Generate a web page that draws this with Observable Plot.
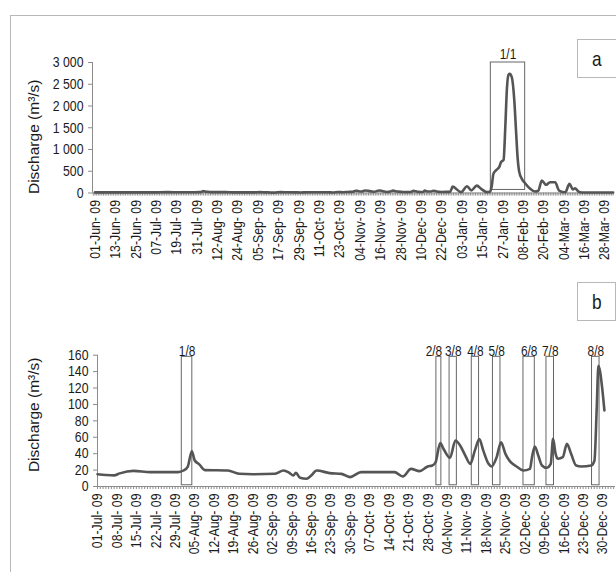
<!DOCTYPE html>
<html>
<head>
<meta charset="utf-8">
<script src="https://cdn.jsdelivr.net/npm/d3@7"></script>
<script src="https://cdn.jsdelivr.net/npm/@observablehq/plot@0.6"></script>
<style>
  html, body { margin: 0; padding: 0; background: #fff; }
  body { width: 616px; height: 572px; overflow: hidden; }
  #wrap { position: relative; width: 616px; height: 572px; overflow: hidden; }
  #frame { position: absolute; left: 10px; top: 15px; width: 640px; height: 600px; border: 1px solid #b8b8b8; box-sizing: border-box; }
  .panel { position: absolute; left: 0; }
  .tag { position: absolute; border: 1px solid #b8b8b8; box-sizing: border-box; background: #fff;
         font-family: "Liberation Sans", Arial, sans-serif;
         font-size: 21px; color: #1a1a1a; display: flex; align-items: center; justify-content: center; }
  .tag span { display: inline-block; transform: scaleX(0.82); }
</style>
</head>
<body>
<div id="wrap">
  <div id="frame"></div>
  <div id="top" class="panel" style="top:0px"></div>
  <div id="bottom" class="panel" style="top:290px"></div>
  <div class="tag" style="left:577px; top:39px; width:40px; height:39px;"><span>a</span></div>
  <div class="tag" style="left:577px; top:282px; width:39px; height:39px;"><span>b</span></div>
</div>
<script>
// ---------- data ----------
const datesJun  = ["2009-06-01", "2009-06-10", "2009-06-20", "2009-06-30"];
const valuesJun = [15, 14, 15, 15];

const datesJulDec = [
  "2009-07-01", "2009-07-04", "2009-07-07", "2009-07-09", "2009-07-14", "2009-07-20", "2009-07-30",
  "2009-08-01", "2009-08-02T12:00Z", "2009-08-04", "2009-08-05", "2009-08-06T16:00Z", "2009-08-08T16:00Z",
  "2009-08-17", "2009-08-21", "2009-08-26", "2009-09-03", "2009-09-06", "2009-09-08",
  "2009-09-09T14:00Z", "2009-09-10T12:00Z", "2009-09-12", "2009-09-14T08:00Z", "2009-09-16", "2009-09-18",
  "2009-09-22T16:00Z", "2009-09-26T22:00Z", "2009-09-29T22:00Z", "2009-10-04", "2009-10-16", "2009-10-19",
  "2009-10-22", "2009-10-25", "2009-10-28", "2009-10-29T16:00Z", "2009-10-30T20:00Z",
  "2009-11-01T12:00Z", "2009-11-02T16:00Z", "2009-11-05", "2009-11-07", "2009-11-08T16:00Z",
  "2009-11-10T12:00Z", "2009-11-12T08:00Z", "2009-11-14", "2009-11-15T14:00Z", "2009-11-17",
  "2009-11-18T22:00Z", "2009-11-20", "2009-11-21T20:00Z", "2009-11-23T10:00Z", "2009-11-25",
  "2009-11-26T14:00Z", "2009-11-29", "2009-12-01T10:00Z", "2009-12-03T20:00Z", "2009-12-04T14:00Z",
  "2009-12-05T14:00Z", "2009-12-06T20:00Z", "2009-12-08T04:00Z", "2009-12-09T20:00Z", "2009-12-11T08:00Z",
  "2009-12-12T04:00Z", "2009-12-13T02:00Z", "2009-12-13T22:00Z", "2009-12-15T16:00Z", "2009-12-17T04:00Z",
  "2009-12-18T16:00Z", "2009-12-20T12:00Z", "2009-12-22T08:00Z", "2009-12-25T22:00Z", "2009-12-27T02:00Z",
  "2009-12-27T22:00Z", "2009-12-28T12:00Z", "2009-12-29T04:00Z", "2009-12-29T20:00Z", "2009-12-30T16:00Z"
];
const valuesJulDec = [
  15, 14, 13.5, 16, 19, 17.5, 17.5,
  19.5, 24, 43, 32, 27, 20,
  19.5, 15.5, 15, 15.5, 19.5, 17,
  13.4, 16.7, 10.6, 9.4, 13.4, 19.5,
  16.3, 15.4, 11.4, 17.5, 17.5, 12.2,
  21.5, 18.7, 24.4, 25.6, 29.6,
  52.8, 46, 35, 56, 50,
  38, 27.6, 44, 57.7, 44,
  27.6, 24.4, 35.7, 54, 39.8,
  30.9, 24.4, 19.5, 21.5, 35.7,
  48.8, 37.8, 25.6, 22.8, 27.6,
  58, 39.8, 33.8, 35.7, 52,
  39.8, 25.6, 24.4, 25.6, 31.7,
  96.7, 147, 139, 121, 92.7
];

const datesJanApr = [
  "2010-01-02T12:00Z", "2010-01-06", "2010-01-08T12:00Z", "2010-01-11T18:00Z", "2010-01-14T12:00Z",
  "2010-01-17T16:00Z", "2010-01-19T12:00Z", "2010-01-20T12:00Z", "2010-01-21T12:00Z", "2010-01-23",
  "2010-01-25", "2010-01-26", "2010-01-27T12:00Z", "2010-01-28T12:00Z", "2010-01-29T12:00Z",
  "2010-01-30T10:00Z", "2010-01-31T04:00Z", "2010-02-01T10:00Z", "2010-02-02T20:00Z", "2010-02-03T22:00Z",
  "2010-02-04T18:00Z", "2010-02-05T18:00Z", "2010-02-07T06:00Z", "2010-02-09T04:00Z", "2010-02-12T04:00Z",
  "2010-02-15", "2010-02-17", "2010-02-19", "2010-02-21T14:00Z", "2010-02-23T20:00Z",
  "2010-02-26T20:00Z", "2010-03-01T04:00Z", "2010-03-04T20:00Z", "2010-03-07T08:00Z", "2010-03-09T08:00Z",
  "2010-03-10T14:00Z", "2010-03-12T14:00Z", "2010-03-14T14:00Z", "2010-03-25", "2010-04-02"
];
const valuesJanApr = [
  20, 155, 60, 170, 90,
  20, 30, 150, 440, 520,
  600, 710, 760, 1500, 2420,
  2720, 2740, 2650, 2120, 1370,
  820, 480, 326, 225, 97,
  34, 57, 287, 188, 248,
  248, 57, 18, 211, 80,
  110, 34, 12, 12, 12
];

// highlighted events
const eventTopLabels = ["1/1"];
const eventTopStart  = ["2010-01-20"];
const eventTopEnd    = ["2010-02-09T05:00Z"];
const eventTopLow = 70, eventTopHigh = 3000;

const eventBotLabels = ["1/8", "2/8", "3/8", "4/8", "5/8", "6/8", "7/8", "8/8"];
const eventBotStart  = ["2009-07-31T09:00Z", "2009-10-31T03:00Z", "2009-11-04T21:00Z", "2009-11-12T21:00Z",
                        "2009-11-20T12:00Z", "2009-12-01T12:00Z", "2009-12-09T19:00Z", "2009-12-26T05:00Z"];
const eventBotEnd    = ["2009-08-04T04:00Z", "2009-11-01T22:00Z", "2009-11-07T12:00Z", "2009-11-15T12:00Z",
                        "2009-11-23T05:00Z", "2009-12-05T14:00Z", "2009-12-12T12:00Z", "2009-12-28T22:00Z"];
const eventBotLow = 1.5, eventBotHigh = 158;

// ticks
const xTickDatesTop = ["2009-06-01","2009-06-13","2009-06-25","2009-07-07","2009-07-19","2009-07-31",
  "2009-08-12","2009-08-24","2009-09-05","2009-09-17","2009-09-29","2009-10-11","2009-10-23","2009-11-04",
  "2009-11-16","2009-11-28","2009-12-10","2009-12-22","2010-01-03","2010-01-15","2010-01-27","2010-02-08",
  "2010-02-20","2010-03-04","2010-03-16","2010-03-28"];
const xTickLabelsTop = ["01-Jun- 09","13-Jun- 09","25-Jun- 09","07-Jul- 09","19-Jul- 09","31-Jul- 09",
  "12-Aug- 09","24-Aug- 09","05-Sep- 09","17-Sep- 09","29-Sep- 09","11-Oct- 09","23-Oct- 09","04-Nov- 09",
  "16-Nov- 09","28-Nov- 09","10-Dec- 09","22-Dec- 09","03-Jan- 09","15-Jan- 09","27-Jan- 09","08-Feb- 09",
  "20-Feb- 09","04-Mar- 09","16-Mar- 09","28-Mar- 09"];
const xTickDatesBot = ["2009-07-01","2009-07-08","2009-07-15","2009-07-22","2009-07-29","2009-08-05",
  "2009-08-12","2009-08-19","2009-08-26","2009-09-02","2009-09-09","2009-09-16","2009-09-23","2009-09-30",
  "2009-10-07","2009-10-14","2009-10-21","2009-10-28","2009-11-04","2009-11-11","2009-11-18","2009-11-25",
  "2009-12-02","2009-12-09","2009-12-16","2009-12-23","2009-12-30"];
const xTickLabelsBot = ["01-Jul- 09","08-Jul- 09","15-Jul- 09","22-Jul- 09","29-Jul- 09","05-Aug- 09",
  "12-Aug- 09","19-Aug- 09","26-Aug- 09","02-Sep- 09","09-Sep- 09","16-Sep- 09","23-Sep- 09","30-Sep- 09",
  "07-Oct- 09","14-Oct- 09","21-Oct- 09","28-Oct- 09","04-Nov- 09","11-Nov- 09","18-Nov- 09","25-Nov- 09",
  "02-Dec- 09","09-Dec- 09","16-Dec- 09","23-Dec- 09","30-Dec- 09"];
const yTicksTop = [0, 500, 1000, 1500, 2000, 2500, 3000];
const yTickLabelsTop = ["0", "500", "1 000", "1 500", "2 000", "2 500", "3 000"];
const yTicksBot = [0, 20, 40, 60, 80, 100, 120, 140, 160];
const yTickLabelsBot = ["0", "20", "40", "60", "80", "100", "120", "140", "160"];
const yTitle = "Discharge (m³/s)";

// ---------- build ----------
const P = s => new Date(s);
const series = (ds, vs) => ds.map((d, i) => ({date: P(d), value: vs[i]}));
const bottomData = series(datesJulDec, valuesJulDec);
const topData = [...series(datesJun, valuesJun), ...bottomData, ...series(datesJanApr, valuesJanApr)];
const events = (labels, s, e, lo, hi) => labels.map((l, i) => ({label: l, x1: P(s[i]), x2: P(e[i]), y1: lo, y2: hi}));
const evTop = events(eventTopLabels, eventTopStart, eventTopEnd, eventTopLow, eventTopHigh);
const evBot = events(eventBotLabels, eventBotStart, eventBotEnd, eventBotLow, eventBotHigh);
const mid = d => new Date((+d.x1 + +d.x2) / 2);

const FONT = '"Liberation Sans", Arial, sans-serif';
const AX = "#8c8c8c", LINE = "#555", BOX = "#666";

function panel({data, domain, yDomain, yTicks, yLabels, xTicks, xLabels, ev, ml, mr, mt, mb, h, titleDx, titleDy, evDy, labelSplit}) {
  const xDom = domain.map(P);
  const days = d3.utcDay.range(d3.utcDay.ceil(xDom[0]), xDom[1]);
  const xMap = new Map(xTicks.map((d, i) => [+P(d), xLabels[i]]));
  const yMap = new Map(yTicks.map((d, i) => [d, yLabels[i]]));
  const evMain = labelSplit ? ev.filter(d => d.label !== labelSplit) : ev;
  const evSplit = labelSplit ? ev.filter(d => d.label === labelSplit) : [];
  const svg = Plot.plot({
    width: 616, height: h,
    marginLeft: ml, marginRight: mr, marginTop: mt, marginBottom: mb,
    x: {type: "utc", domain: xDom},
    y: {domain: yDomain},
    style: {fontFamily: FONT, fontSize: "15px", color: "#1a1a1a", background: "transparent", overflow: "visible"},
    marks: [
      Plot.axisX(days, {tickSize: 3, tickFormat: () => "", stroke: AX, label: null}),
      Plot.axisX(xTicks.map(P), {tickSize: 0, tickPadding: 7, tickRotate: -90, tickFormat: d => xMap.get(+d), label: null, fontSize: 15, className: "narrow"}),
      Plot.axisY(yTicks, {tickSize: 4, tickPadding: 5, tickFormat: d => yMap.get(d), stroke: AX, label: null, fontSize: 15, className: "narrow"}),
      Plot.ruleY([yDomain[0]], {stroke: AX}),
      Plot.ruleX([xDom[0]], {stroke: AX}),
      Plot.rect(ev, {x1: "x1", x2: "x2", y1: "y1", y2: "y2", fill: "none", stroke: BOX, strokeWidth: 1}),
      Plot.text(evMain, {x: mid, y: "y2", text: "label", lineAnchor: "bottom", dy: evDy, fontSize: 14.5, className: "narrow"}),
      Plot.text(evSplit, {x: mid, y: "y2", text: "label", lineAnchor: "bottom", dy: evDy, dx: -5, fontSize: 14.5, className: "narrow"}),
      Plot.line(data, {x: "date", y: "value", curve: "monotone-x", stroke: LINE, strokeWidth: 2.6}),
      Plot.text([yTitle], {frameAnchor: "left", dx: titleDx, dy: titleDy, rotate: -90, fontSize: 15.5, textAnchor: "middle"})
    ]
  });
  // condense the narrow labels (Arial Narrow is 82% of Arial's width)
  svg.querySelectorAll("g.narrow text").forEach(t => {
    const tr = t.getAttribute("transform");
    if (tr) t.setAttribute("transform", tr + " scale(0.82,1)");
  });
  return svg;
}

document.getElementById("top").append(panel({
  data: topData, domain: ["2009-05-30T13:00Z", "2010-04-02T12:00Z"], yDomain: [0, 3000],
  yTicks: yTicksTop, yLabels: yTickLabelsTop, xTicks: xTickDatesTop, xLabels: xTickLabelsTop, ev: evTop,
  ml: 92, mr: 2.5, mt: 62, mb: 97.5, h: 290, titleDx: -58, titleDy: 9, evDy: -4
}));
document.getElementById("bottom").append(panel({
  data: bottomData, domain: ["2009-07-01", "2010-01-03T16:00Z"], yDomain: [0, 160],
  yTicks: yTicksBot, yLabels: yTickLabelsBot, xTicks: xTickDatesBot, xLabels: xTickLabelsBot, ev: evBot,
  ml: 97, mr: 1, mt: 64.7, mb: 86, h: 282, titleDx: -63, titleDy: -6, evDy: -1, labelSplit: "2/8"
}));
</script>
</body>
</html>
